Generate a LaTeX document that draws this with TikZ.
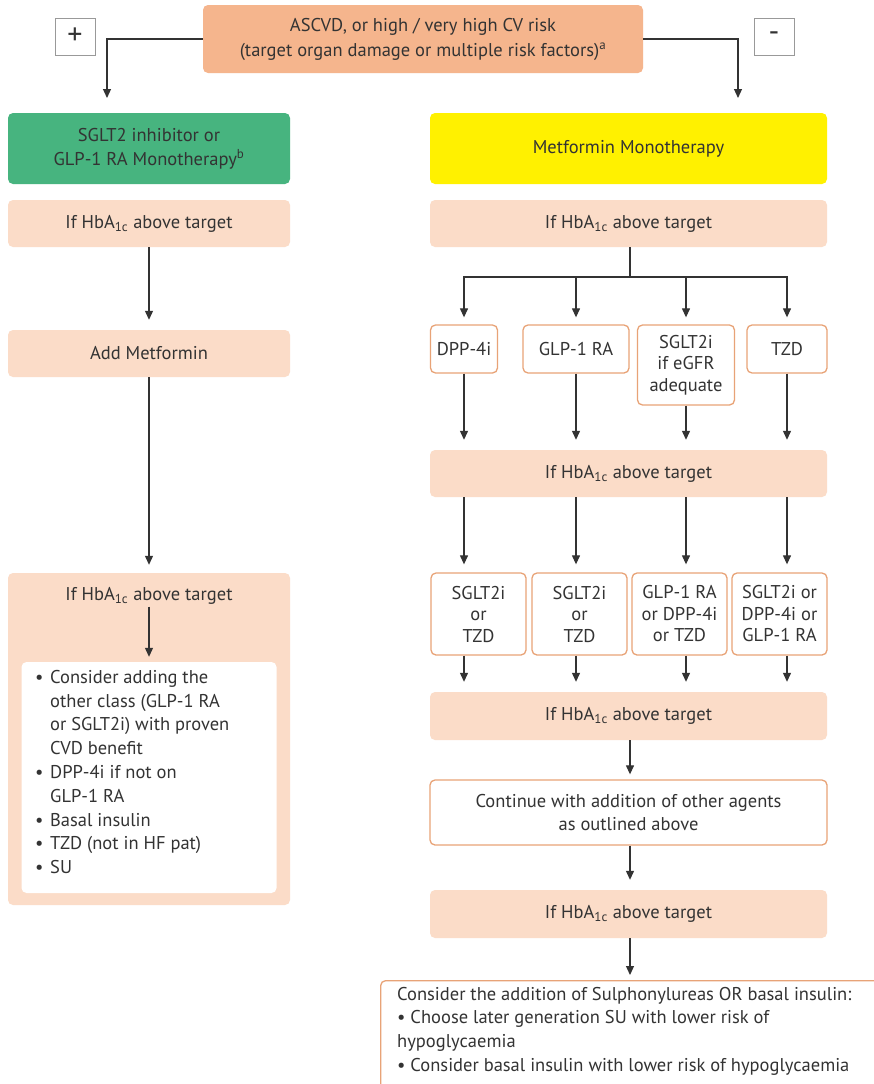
\documentclass[tikz,border=0pt]{standalone}
\usepackage{fontspec}
\setmainfont{PT Sans}
\usetikzlibrary{arrows.meta}
\definecolor{peach}{HTML}{FBDCC8}
\definecolor{topc}{HTML}{F5B58D}
\definecolor{greenc}{HTML}{47B47F}
\definecolor{yel}{HTML}{FFF100}
\definecolor{obord}{HTML}{E8A377}
\definecolor{lnc}{HTML}{333333}
\definecolor{txt}{HTML}{333333}
\newcommand\hba{HbA\textsubscript{1c}}
\newcommand\bul{\makebox[15pt][l]{\textbullet}}
\newcommand\ind{\hspace*{15pt}}
\begin{document}
\begin{tikzpicture}[x=1pt,y=-1pt, font=\fontsize{18.5}{21.5}\selectfont, text=txt,
 box/.style={rounded corners=5pt, inner sep=0pt, align=center},
 pbox/.style={box, fill=peach},
 wbox/.style={box, fill=white, draw=obord, line width=1.3pt},
 sbox/.style={draw=gray!80, line width=1pt, fill=white, minimum width=40pt, minimum height=37pt, inner sep=0pt, font=\fontsize{30}{30}\selectfont},
 arr/.style={draw=lnc, line width=1.2pt, -{Triangle[length=9pt,width=8pt]}},
 ln/.style={draw=lnc, line width=1.2pt},
]
\useasboundingbox[fill=white] (0,0) rectangle (873,1084);

% top
\node[box, fill=topc, minimum width=440pt, minimum height=68pt, font=\fontsize{18.5}{25}\selectfont] (top) at (423,39)
  {ASCVD, or high / very high CV risk\\(target organ damage or multiple risk factors)\textsuperscript{a}};
\node[sbox] (plus) at (75,36.5) {+};
\node[sbox] (minus) at (774,36.5) {-};
\coordinate (gl) at (107,98);
\coordinate (gr) at (738,98);
\draw[arr] (top.west) -| (gl);
\draw[arr] (top.east) -| (gr);

% left column
\node[box, fill=greenc, minimum width=282pt, minimum height=71pt, font=\fontsize{18.5}{24}\selectfont] (green) at (149,148.5)
  {SGLT2 inhibitor or\\GLP-1 RA Monotherapy\textsuperscript{b}};
\node[pbox, minimum width=282pt, minimum height=47pt] (hl1) at (149,223.5) {If \hba{} above target};
\node[pbox, minimum width=282pt, minimum height=47pt] (add) at (149,353.5) {Add Metformin};
\node[pbox, minimum width=282pt, minimum height=332pt] (big) at (149,739) {};
\node[inner sep=2pt] (hl2) at (149,596) {If \hba{} above target};
\node[box, fill=white, minimum width=255pt, minimum height=231pt] (list) at (149,777.5) {};
\node[anchor=north west, align=left, inner sep=0pt, font=\fontsize{18.5}{23.8}\selectfont] (listtxt) at (35,670)
  {\bul Consider adding the\\
   \ind other class (GLP-1 RA\\
   \ind or SGLT2i) with proven\\
   \ind CVD benefit\\
   \bul DPP-4i if not on\\
   \ind GLP-1 RA\\
   \bul Basal insulin\\
   \bul TZD (not in HF pat)\\
   \bul SU};
\draw[arr, shorten >=10pt] (hl1) -- (add);
\draw[arr, shorten >=8pt] (add) -- (big);
\draw[arr, shorten >=5pt] (hl2) -- (list);

% right column
\node[box, fill=yel, minimum width=397pt, minimum height=71pt] (met) at (628.5,148.5) {Metformin Monotherapy};
\node[pbox, minimum width=397pt, minimum height=47pt] (hr1) at (628.5,223.5) {If \hba{} above target};
\coordinate (jn) at (630,277);

\node[wbox, minimum width=67pt, minimum height=48pt] (a1) at (464,349) {DPP-4i};
\node[wbox, minimum width=106pt, minimum height=48pt] (b1) at (576,349) {GLP-1 RA};
\node[wbox, minimum width=97pt, minimum height=80pt] (c1) at (686,365) {SGLT2i\\if eGFR\\adequate};
\node[wbox, minimum width=80pt, minimum height=48pt] (d1) at (787,349) {TZD};

\draw[ln] (hr1.south -| jn) -- (jn);
\foreach \n in {a1,b1,c1,d1} \draw[arr, shorten >=7pt] (jn) -| (\n.north);

\node[pbox, minimum width=397pt, minimum height=47pt] (hr2) at (628.5,473.5) {If \hba{} above target};
\foreach \n in {a1,b1,c1,d1} \draw[arr, shorten >=10pt] (\n.south) -- (\n |- hr2.north);

\node[wbox, minimum width=95pt, minimum height=82pt] (a2) at (478.5,614) {SGLT2i\\or\\TZD};
\node[wbox, minimum width=95pt, minimum height=82pt] (b2) at (579.5,614) {SGLT2i\\or\\TZD};
\node[wbox, minimum width=95pt, minimum height=82pt] (c2) at (679.5,614) {GLP-1 RA\\or DPP-4i\\or TZD};
\node[wbox, minimum width=95pt, minimum height=82pt] (d2) at (779.5,614) {SGLT2i or\\DPP-4i or\\GLP-1 RA};
\draw[arr, shorten >=8pt] (a1 |- hr2.south) -- (a1 |- a2.north);
\draw[arr, shorten >=8pt] (b1 |- hr2.south) -- (b1 |- b2.north);
\draw[arr, shorten >=8pt] (c1 |- hr2.south) -- (c1 |- c2.north);
\draw[arr, shorten >=8pt] (d1 |- hr2.south) -- (d1 |- d2.north);

\node[pbox, minimum width=397pt, minimum height=48pt] (hr3) at (628.5,716) {If \hba{} above target};
\draw[arr, shorten >=10pt] (a1 |- a2.south) -- (a1 |- hr3.north);
\draw[arr, shorten >=10pt] (b1 |- b2.south) -- (b1 |- hr3.north);
\draw[arr, shorten >=10pt] (c1 |- c2.south) -- (c1 |- hr3.north);
\draw[arr, shorten >=10pt] (d1 |- d2.south) -- (d1 |- hr3.north);

\node[wbox, minimum width=397pt, minimum height=65pt, font=\fontsize{18.5}{23}\selectfont] (cont) at (628.5,812.5)
  {Continue with addition of other agents\\as outlined above};
\node[pbox, minimum width=397pt, minimum height=48pt] (hr4) at (628.5,914) {If \hba{} above target};
\draw[arr, shorten >=5pt] (hr3.south -| jn) -- (jn |- cont.north);
\draw[arr, shorten >=10pt] (cont.south -| jn) -- (jn |- hr4.north);

\node[wbox, anchor=north west, minimum width=520pt, minimum height=120pt] (fin) at (380,980) {};
\node[anchor=north west, align=left, inner sep=0pt, font=\fontsize{18.5}{23.6}\selectfont] (fintxt) at (397,987)
  {Consider the addition of Sulphonylureas OR basal insulin:\\
   \textbullet{} Choose later generation SU with lower risk of\\
   hypoglycaemia\\
   \textbullet{} Consider basal insulin with lower risk of hypoglycaemia};
\draw[arr, shorten >=5pt] (hr4.south -| jn) -- (jn |- fin.north);
\end{tikzpicture}
\end{document}
